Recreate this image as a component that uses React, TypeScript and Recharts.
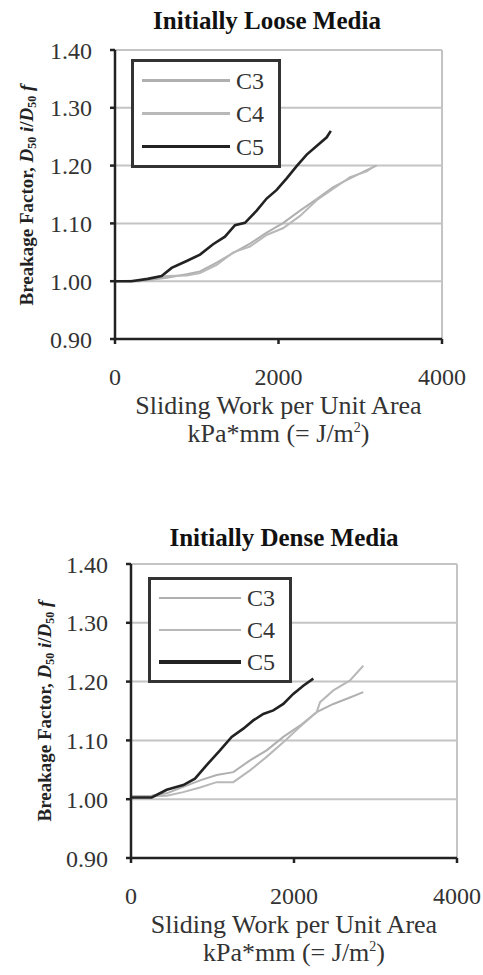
import React from 'react';
import { CartesianGrid, Line, LineChart, ReferenceLine, XAxis, YAxis } from 'recharts';

const FONT = '"Liberation Serif", "Times New Roman", serif';

const seriesNames = ['C3', 'C4', 'C5'];
const seriesColors = ['#b0b0b0', '#b8b8b8', '#222222'];
const seriesWidths = [2, 2, 2.6];

const xTicks = [0, 2000, 4000];
const yTicks = [0.9, 1.0, 1.1, 1.2, 1.3, 1.4];

// Initially loose media
const looseC3X = [0, 300, 632, 877, 1040, 1244, 1447, 1651, 1855, 2059, 2263, 2467, 2670, 2875, 3079, 3200];
const looseC3Y = [1.0, 1.0, 1.006, 1.012, 1.017, 1.032, 1.049, 1.065, 1.084, 1.101, 1.122, 1.142, 1.163, 1.178, 1.192, 1.2];
const looseC4X = [0, 300, 632, 877, 1040, 1244, 1447, 1651, 1855, 2059, 2263, 2467, 2670, 2875, 3079, 3180];
const looseC4Y = [1.0, 1.001, 1.009, 1.01, 1.014, 1.028, 1.05, 1.06, 1.08, 1.092, 1.113, 1.14, 1.16, 1.18, 1.19, 1.2];
const looseC5X = [0, 200, 400, 570, 693, 877, 1040, 1200, 1345, 1468, 1590, 1733, 1855, 1978, 2100, 2222, 2345, 2467, 2590, 2640];
const looseC5Y = [1.0, 1.0, 1.004, 1.009, 1.023, 1.035, 1.046, 1.064, 1.077, 1.097, 1.101, 1.122, 1.143, 1.158, 1.178, 1.199, 1.219, 1.234, 1.249, 1.26];

// Initially dense media
const denseC3X = [0, 250, 438, 641, 847, 1051, 1255, 1460, 1664, 1869, 2073, 2278, 2483, 2687, 2850];
const denseC3Y = [1.005, 1.006, 1.01, 1.021, 1.032, 1.041, 1.046, 1.066, 1.083, 1.106, 1.125, 1.148, 1.162, 1.173, 1.182];
const denseC4X = [0, 250, 438, 641, 847, 1051, 1255, 1460, 1664, 1869, 2073, 2278, 2320, 2483, 2687, 2850];
const denseC4Y = [1.005, 1.005, 1.006, 1.012, 1.02, 1.029, 1.029, 1.049, 1.072, 1.097, 1.123, 1.148, 1.165, 1.185, 1.202, 1.227];
const denseC5X = [0, 254, 438, 641, 785, 928, 1092, 1235, 1378, 1500, 1623, 1746, 1869, 1991, 2114, 2237];
const denseC5Y = [1.003, 1.003, 1.016, 1.024, 1.035, 1.058, 1.083, 1.106, 1.12, 1.134, 1.145, 1.151, 1.162, 1.179, 1.193, 1.205];

const zip = (xs: number[], ys: number[]) => xs.map((x, i) => ({ x, y: ys[i] }));

const looseSeries = [zip(looseC3X, looseC3Y), zip(looseC4X, looseC4Y), zip(looseC5X, looseC5Y)];
const denseSeries = [zip(denseC3X, denseC3Y), zip(denseC4X, denseC4Y), zip(denseC5X, denseC5Y)];

interface PanelProps {
  top: number;
  height: number;
  title: string;
  titleX: number;
  titleY: number;
  series: { x: number; y: number }[][];
  plot: { left: number; right: number; top: number; bottom: number };
  yLabelX: number;
  legend: { left: number; top: number; width: number; height: number };
}

function Centered({ x, y, style, children }: { x: number; y: number; style?: React.CSSProperties; children: React.ReactNode }) {
  return (
    <div
      style={{
        position: 'absolute',
        left: x,
        top: y,
        transform: 'translate(-50%, -50%)',
        whiteSpace: 'nowrap',
        lineHeight: 1,
        fontFamily: FONT,
        color: '#333',
        ...style,
      }}
    >
      {children}
    </div>
  );
}

function Panel({ top, height, title, titleX, titleY, series, plot, yLabelX, legend }: PanelProps) {
  const width = 483;
  const xAxisHeight = 100;
  const plotCx = (plot.left + plot.right) / 2;
  const plotCy = (plot.top + plot.bottom) / 2;
  return (
    <div style={{ position: 'absolute', left: 0, top, width, height }}>
      <LineChart
        width={width}
        height={height}
        margin={{ top: plot.top, right: width - plot.right, left: 0, bottom: height - plot.bottom - xAxisHeight }}
      >
        <CartesianGrid stroke="#c4c4c4" strokeWidth={2} vertical={false} />
        <ReferenceLine x={4000} stroke="#c4c4c4" strokeWidth={2} />
        <XAxis
          type="number"
          dataKey="x"
          domain={[0, 4000]}
          ticks={xTicks}
          height={xAxisHeight}
          stroke="#222"
          strokeWidth={2.5}
          tickSize={5}
          tickMargin={24}
          tick={{ fill: '#333', fontSize: 24, fontFamily: FONT }}
          allowDataOverflow
        />
        <YAxis
          type="number"
          dataKey="y"
          domain={[0.9, 1.4]}
          ticks={yTicks}
          width={plot.left}
          stroke="#222"
          strokeWidth={2.5}
          tickSize={5}
          tickMargin={18}
          tickFormatter={(v: number) => v.toFixed(2)}
          tick={{ fill: '#333', fontSize: 24, fontFamily: FONT }}
          allowDataOverflow
        />
        {series.map((d, i) => (
          <Line
            key={seriesNames[i]}
            data={d}
            dataKey="y"
            name={seriesNames[i]}
            stroke={seriesColors[i]}
            strokeWidth={seriesWidths[i]}
            dot={false}
            type="linear"
            isAnimationActive={false}
          />
        ))}
      </LineChart>

      <Centered x={titleX} y={titleY} style={{ fontWeight: 'bold', fontSize: 25, color: '#111' }}>
        {title}
      </Centered>

      <Centered
        x={yLabelX}
        y={plotCy}
        style={{ fontWeight: 'bold', fontSize: 19, color: '#222', transform: 'translate(-50%, -50%) rotate(-90deg)' }}
      >
        Breakage Factor, <i>D</i>
        <span style={{ fontSize: 12, verticalAlign: -3 }}>50</span> <i>i</i>/<i>D</i>
        <span style={{ fontSize: 12, verticalAlign: -3 }}>50</span> <i>f</i>
      </Centered>

      <Centered x={plotCx} y={plot.bottom + 67} style={{ fontSize: 26 }}>
        Sliding Work per Unit Area
      </Centered>
      <Centered x={plotCx} y={plot.bottom + 95} style={{ fontSize: 26 }}>
        kPa*mm (= J/m<sup style={{ fontSize: 14 }}>2</sup>)
      </Centered>

      <div
        style={{
          position: 'absolute',
          left: legend.left,
          top: legend.top,
          width: legend.width,
          height: legend.height,
          boxSizing: 'border-box',
          border: '3px solid #333',
          background: '#fff',
          display: 'flex',
          flexDirection: 'column',
          justifyContent: 'space-around',
          padding: '2px 0',
        }}
      >
        {seriesNames.map((name, i) => (
          <div key={name} style={{ display: 'flex', alignItems: 'center', height: 30 }}>
            <div
              style={{
                marginLeft: 8,
                width: legend.width - 62,
                height: seriesWidths[i] + 0.5,
                background: seriesColors[i],
              }}
            />
            <span style={{ marginLeft: 6, fontFamily: FONT, fontSize: 24, color: '#333', lineHeight: 1 }}>{name}</span>
          </div>
        ))}
      </div>
    </div>
  );
}

export default function App() {
  return (
    <div style={{ position: 'absolute', left: 0, top: 0, width: 483, height: 975, background: '#fff' }}>
      <Panel
        top={0}
        height={490}
        title="Initially Loose Media"
        titleX={267}
        titleY={20}
        series={looseSeries}
        plot={{ left: 115, right: 442, top: 50, bottom: 339 }}
        yLabelX={27}
        legend={{ left: 131, top: 59, width: 150, height: 109 }}
      />
      <Panel
        top={490}
        height={485}
        title="Initially Dense Media"
        titleX={284}
        titleY={47}
        series={denseSeries}
        plot={{ left: 131, right: 457, top: 74, bottom: 368 }}
        yLabelX={45}
        legend={{ left: 148, top: 87, width: 144, height: 106 }}
      />
    </div>
  );
}
